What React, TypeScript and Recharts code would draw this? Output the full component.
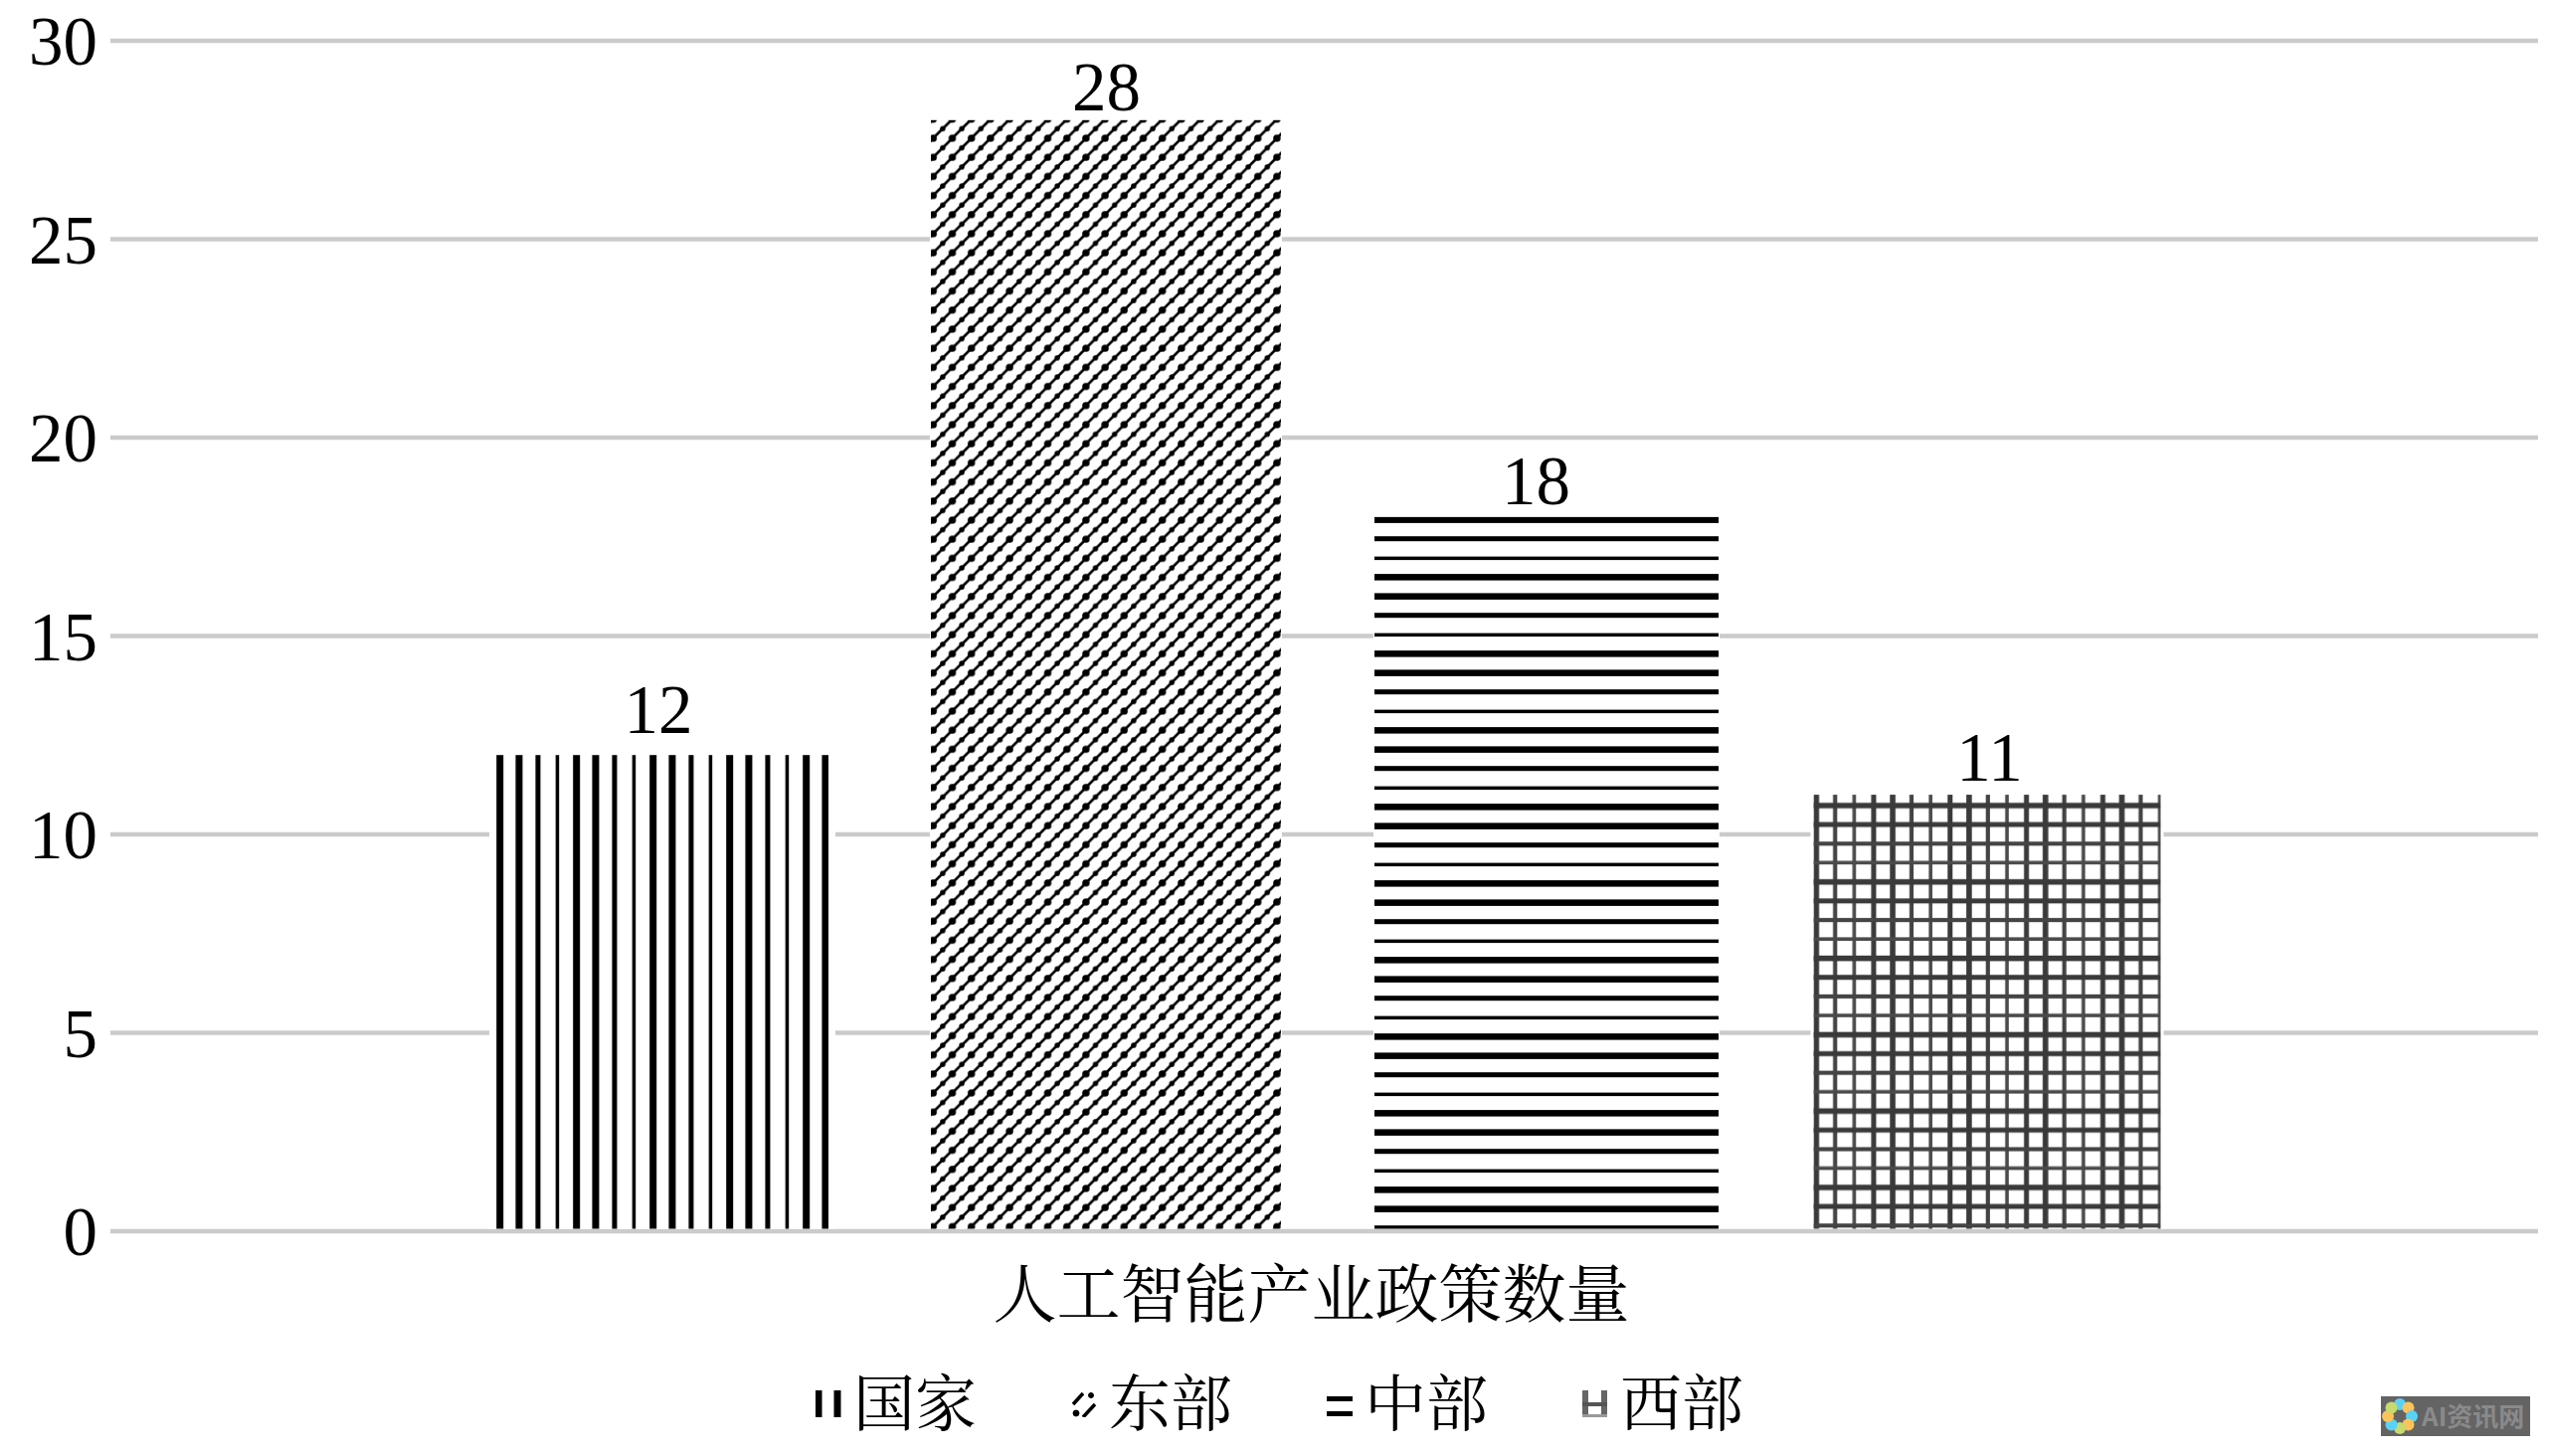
import React from 'react';
import { BarChart, Bar, XAxis, YAxis, CartesianGrid, Legend, LabelList } from 'recharts';

const categories = ['人工智能产业政策数量'];
const seriesNames = ['国家', '东部', '中部', '西部'];
const nationalValues = [12];
const eastValues = [28];
const centralValues = [18];
const westValues = [11];
const yTicks = [0, 5, 10, 15, 20, 25, 30];

const tableRows = categories.map((name, i) => ({
  name,
  [seriesNames[0]]: nationalValues[i],
  [seriesNames[1]]: eastValues[i],
  [seriesNames[2]]: centralValues[i],
  [seriesNames[3]]: westValues[i],
}));

const FONT = "'Liberation Serif','Noto Serif CJK SC','Noto Sans CJK SC',serif";
const seriesLook = [
  { fill: 'url(#pV)', inset: 7, shift: 0, halo: 7, labelGap: 22, labelDx: -4 },
  { fill: 'url(#pD)', inset: -2, shift: 2, halo: 1, labelGap: 10, labelDx: 2.5 },
  { fill: 'url(#pH)', inset: 1, shift: 1, halo: 1, labelGap: 13, labelDx: -9.5 },
  { fill: 'url(#pG)', inset: -0.5, shift: 0, halo: 3, labelGap: 14, labelDx: 2.5 },
];

const makeShape = (look: any) => (props: any) => {
  const { x, y, width, height } = props;
  const visX = x + look.inset + look.shift;
  const visW = width - 2 * look.inset;
  const visH = height - 2.5;
  return (
    <g>
      <rect x={visX - look.halo} y={y - 2} width={visW + 2 * look.halo} height={visH + 2} fill="#fff" />
      <rect x={visX} y={y} width={visW} height={visH} fill={look.fill} />
    </g>
  );
};

const Patterns = () => (
  <svg width={0} height={0} style={{ position: 'absolute' }}>
    <defs>
      <pattern id="pV" patternUnits="userSpaceOnUse" x={493.1} y={0} width={77} height={77}>
        <rect x={6.1} y={0} width={7} height={77} fill="#000" />
        <rect x={25.35} y={0} width={7} height={77} fill="#000" />
        <rect x={45.35} y={0} width={5} height={77} fill="#000" />
        <rect x={65.6} y={0} width={3.5} height={77} fill="#000" />
      </pattern>
      <pattern id="pH" patternUnits="userSpaceOnUse" x={0} y={571} width={77} height={77}>
        <rect y={6.1} x={0} height={6.5} width={77} fill="#000" />
        <rect y={25.4} x={0} height={6.5} width={77} fill="#000" />
        <rect y={45.2} x={0} height={5} width={77} fill="#000" />
        <rect y={65.6} x={0} height={3.5} width={77} fill="#000" />
      </pattern>
      <pattern id="pD" patternUnits="userSpaceOnUse" x={938.3} y={235} width={19.2} height={19.2}>
        <path d="M-3,22.2 L22.2,-3" stroke="#000" strokeWidth={2.6} />
        <path d="M-3,3 L3,-3 M16.2,22.2 L22.2,16.2" stroke="#000" strokeWidth={2.6} />
        <circle cx={9.6} cy={9.6} r={2.7} fill="#000" />
        <circle cx={0} cy={19.2} r={3.7} fill="#000" />
        <circle cx={19.2} cy={0} r={3.7} fill="#000" />
        <circle cx={0} cy={0} r={3.7} fill="#000" />
        <circle cx={19.2} cy={19.2} r={3.7} fill="#000" />
      </pattern>
      <pattern id="pG" patternUnits="userSpaceOnUse" x={1816.4} y={800.4} width={76.8} height={76.8}>
        <rect x={7.1} y={0} width={5.6} height={76.8} fill="#3a3a3a" />
        <rect x={26.7} y={0} width={4.2} height={76.8} fill="#444" />
        <rect x={46.2} y={0} width={3.6} height={76.8} fill="#4a4a4a" />
        <rect x={65.1} y={0} width={5} height={76.8} fill="#3a3a3a" />
        <rect y={6.8} x={0} height={5.6} width={76.8} fill="#3a3a3a" />
        <rect y={26.2} x={0} height={5} width={76.8} fill="#3a3a3a" />
        <rect y={45.8} x={0} height={4.2} width={76.8} fill="#444" />
        <rect y={65.2} x={0} height={3.6} width={76.8} fill="#4a4a4a" />
      </pattern>
    </defs>
  </svg>
);

const Swatch = ({ index }: { index: number }) => (
  <svg width={26} height={27} style={{ display: 'block', flex: 'none' }}>
    {index === 0 && (
      <g fill="#000">
        <rect x={0} y={0} width={6.5} height={27} />
        <rect x={18.5} y={0} width={7} height={27} />
      </g>
    )}
    {index === 1 && (
      <g fill="#000" stroke="#000">
        <path d="M2,14 L12,3" strokeWidth={3.5} />
        <path d="M12,27 L24,14" strokeWidth={3.5} />
        <circle cx={5} cy={23} r={3} />
        <circle cx={20} cy={5} r={2.5} />
      </g>
    )}
    {index === 2 && (
      <g fill="#000">
        <rect x={0} y={6} width={26} height={5} />
        <rect x={0} y={21} width={26} height={5} />
      </g>
    )}
    {index === 3 && (
      <g fill="#666">
        <rect x={0} y={0} width={6} height={27} />
        <rect x={19} y={0} width={6} height={27} />
        <rect x={0} y={12} width={25} height={4} fill="#555" />
        <rect x={0} y={24} width={25} height={3} fill="#999" />
      </g>
    )}
  </svg>
);

const LegendContent = (props: any) => {
  const items = props.payload || [];
  return (
    <div style={{ display: 'flex', height: 96, alignItems: 'flex-start' }}>
      {items.map((it: any) => (
        <div key={it.value} style={{ width: 257, display: 'flex', alignItems: 'flex-start', flex: 'none' }}>
          <div style={{ marginTop: 30 }}>
            <Swatch index={seriesNames.indexOf(it.value)} />
          </div>
          <div style={{ marginLeft: 12, fontFamily: FONT, fontSize: 62, lineHeight: '90px', color: '#000', whiteSpace: 'nowrap' }}>
            {it.value}
          </div>
        </div>
      ))}
    </div>
  );
};

const petalColors = ['#5ad2f5', '#fdc35a', '#5ad2f5', '#fdc35a', '#c8d96e', '#5ad2f5', '#fdc35a', '#c8d96e'];
const Watermark = () => (
  <div style={{ position: 'absolute', left: 2394, top: 1404, width: 150, height: 40, background: '#646464' }}>
    <svg width={40} height={40} style={{ position: 'absolute', left: 0, top: 0 }}>
      {petalColors.map((c, i) => (
        <circle
          key={i}
          cx={19 + 12 * Math.sin((i * Math.PI) / 4)}
          cy={20 - 12 * Math.cos((i * Math.PI) / 4)}
          r={6}
          fill={c}
        />
      ))}
    </svg>
    <div style={{ position: 'absolute', left: 41, top: 0, fontFamily: "'Noto Sans CJK SC',sans-serif", fontWeight: 700, fontSize: 26, lineHeight: '38px', color: '#8a8a8a', whiteSpace: 'nowrap' }}>
      AI资讯网
    </div>
  </div>
);

export default function App() {
  return (
    <div style={{ position: 'absolute', left: 0, top: 0, width: 2564, height: 1464, background: '#fff', overflow: 'hidden' }}>
      <Patterns />
      <BarChart
        width={2564}
        height={1464}
        data={tableRows}
        margin={{ top: 41, right: 12, bottom: 0, left: 0 }}
        barSize={348}
        barGap={96}
      >
        <CartesianGrid horizontal vertical={false} stroke="#cbcbcb" strokeWidth={4.5} />
        <XAxis
          dataKey="name"
          height={130}
          axisLine={false}
          tickLine={false}
          tickSize={0}
          tickMargin={41}
          tick={{ fontSize: 64, fill: '#000', fontFamily: FONT, dx: -13 }}
        />
        <YAxis
          width={111}
          domain={[0, 30]}
          ticks={yTicks}
          interval={0}
          axisLine={false}
          tickLine={false}
          tickSize={0}
          tickMargin={13}
          tick={{ fontSize: 69, fill: '#000', fontFamily: FONT }}
        />
        <Legend
          layout="horizontal"
          verticalAlign="bottom"
          itemSorter={null as any}
          height={96}
          content={<LegendContent />}
          wrapperStyle={{ left: 820, width: 1100, bottom: 0, height: 96 }}
        />
        {seriesNames.map((s, i) => (
          <Bar
            key={s}
            dataKey={s}
            name={s}
            fill={seriesLook[i].fill}
            isAnimationActive={false}
            shape={makeShape(seriesLook[i])}
          >
            <LabelList
              dataKey={s}
              position="top"
              offset={seriesLook[i].labelGap}
              dx={seriesLook[i].labelDx}
              fill="#000"
              fontSize={69}
              fontFamily={FONT}
            />
          </Bar>
        ))}
      </BarChart>
      <Watermark />
    </div>
  );
}
